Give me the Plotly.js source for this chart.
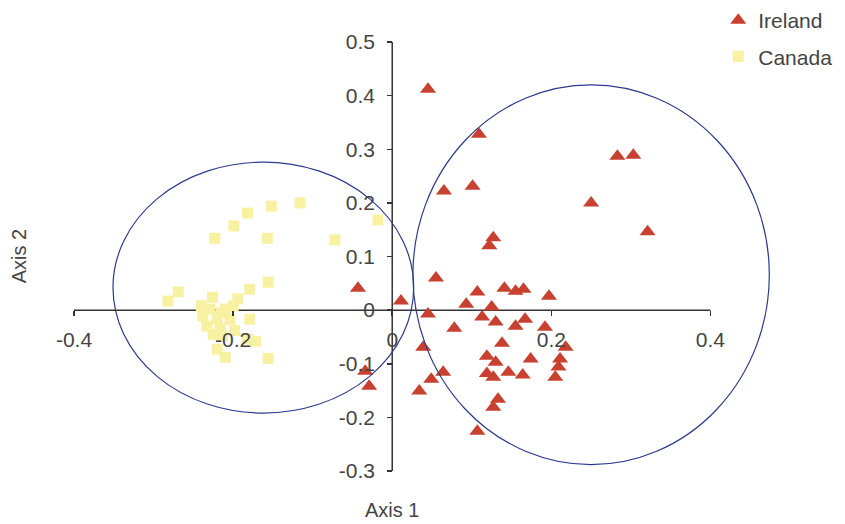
<!DOCTYPE html>
<html>
<head>
<meta charset="utf-8">
<script src="https://cdn.plot.ly/plotly-3.0.1.min.js"></script>
<style>html,body{margin:0;padding:0;background:#fff;}#chart{width:845px;height:524px;}</style>
</head>
<body>
<div id="chart"></div>
<script>
// Ireland (triangles)
var irelandX = [0.045, 0.109, 0.065, 0.101, 0.122, 0.127, 0.283, 0.303, 0.250, 0.321,
  -0.043, 0.011, 0.055, 0.045, 0.078, 0.093, 0.107, 0.141, 0.155, 0.165,
  0.197, 0.125, 0.113, 0.130, 0.155, 0.167, 0.192, 0.138, 0.039, 0.119,
  0.130, 0.119, 0.127, 0.146, 0.164, 0.174, 0.218, 0.211, 0.209, 0.205,
  0.064, 0.049, 0.034, 0.133, 0.127, 0.107, -0.034, -0.029];
var irelandY = [0.412, 0.328, 0.222, 0.231, 0.120, 0.135, 0.287, 0.289, 0.200, 0.146,
  0.041, 0.017, 0.060, -0.007, -0.034, 0.011, 0.034, 0.041, 0.035, 0.039,
  0.026, 0.006, -0.013, -0.022, -0.030, -0.017, -0.032, -0.062, -0.069, -0.086,
  -0.097, -0.118, -0.125, -0.116, -0.121, -0.091, -0.069, -0.091, -0.106, -0.125,
  -0.116, -0.129, -0.151, -0.166, -0.181, -0.226, -0.114, -0.142];
// Canada (squares)
var canadaX = [-0.223, -0.199, -0.182, -0.152, -0.157, -0.116, -0.072, -0.018, -0.156, -0.269,
  -0.282, -0.226, -0.179, -0.194, -0.220, -0.238, -0.233, -0.204, -0.179, -0.213,
  -0.182, -0.210, -0.156, -0.220, -0.210, -0.229, -0.216, -0.172, -0.215, -0.200,
  -0.225, -0.198, -0.240];
var canadaY = [0.134, 0.157, 0.181, 0.194, 0.134, 0.200, 0.131, 0.168, 0.052, 0.034,
  0.017, 0.024, 0.039, 0.021, -0.017, -0.011, -0.030, -0.017, -0.017, -0.049,
  -0.054, -0.088, -0.090, -0.073, 0.002, 0.002, -0.035, -0.058, -0.005, 0.008,
  -0.045, -0.038, 0.008];
// Ellipses (Canada, Ireland): centres and semi-axes
var ellipseCx = [-0.162, 0.250];
var ellipseCy = [0.042, 0.066];
var ellipseRx = [0.189, 0.224];
var ellipseRy = [0.234, 0.354];
// Tick values
var xTicks = [-0.4, -0.2, 0, 0.2, 0.4];
var xTickText = ['-0.4', '-0.2', '0', '0.2', '0.4'];
var yTicks = [-0.3, -0.2, -0.1, 0, 0.1, 0.2, 0.3, 0.4, 0.5];
var yTickText = ['-0.3', '-0.2', '-0.1', '0', '0.1', '0.2', '0.3', '0.4', '0.5'];

var FONT = 'Liberation Sans, Arial, sans-serif';
var xRange = [-0.4, 0.5];
var yRange = [-0.3, 0.5];

var traces = [
  {x: irelandX, y: irelandY, type: 'scatter', mode: 'markers', name: 'Ireland',
   legendgroup: 'a',
   marker: {symbol: 'triangle-up', size: 14, color: '#c8402f'}},
  {x: canadaX, y: canadaY, type: 'scatter', mode: 'markers', name: 'Canada',
   legendgroup: 'b',
   marker: {symbol: 'square', size: 11, color: '#f8f1a2'}}
];

var shapes = [];
for (var i = 0; i < ellipseCx.length; i++) {
  shapes.push({type: 'circle', xref: 'x', yref: 'y',
    x0: ellipseCx[i] - ellipseRx[i], x1: ellipseCx[i] + ellipseRx[i],
    y0: ellipseCy[i] - ellipseRy[i], y1: ellipseCy[i] + ellipseRy[i],
    line: {color: '#2c3a8e', width: 1.2}, layer: 'above'});
}
shapes.push({type: 'line', xref: 'x', yref: 'y', x0: xTicks[0], x1: xTicks[xTicks.length - 1], y0: 0, y1: 0,
  line: {color: '#333', width: 1.5}, layer: 'below'});
shapes.push({type: 'line', xref: 'x', yref: 'y', x0: 0, x1: 0, y0: yTicks[0], y1: yTicks[yTicks.length - 1],
  line: {color: '#333', width: 1.5}, layer: 'below'});

var layout = {
  width: 845, height: 524,
  margin: {l: 74, r: 55, t: 42, b: 53, autoexpand: false},
  paper_bgcolor: '#fff', plot_bgcolor: '#fff',
  font: {family: FONT, size: 21, color: '#444'},
  showlegend: true,
  legend: {xref: 'container', yref: 'container', x: 0.85, y: 1.0, xanchor: 'left', yanchor: 'top',
    traceorder: 'grouped', tracegroupgap: 6, font: {family: FONT, size: 21, color: '#444'},
    bgcolor: 'rgba(0,0,0,0)', itemwidth: 30},
  xaxis: {range: xRange, anchor: 'free', position: (0 - yRange[0]) / (yRange[1] - yRange[0]),
    showgrid: false, zeroline: false, showline: false, automargin: false,
    tickmode: 'array', tickvals: xTicks, ticktext: xTickText,
    ticks: 'outside', ticklen: 5, tickcolor: '#333', tickwidth: 1.5,
    ticklabelstandoff: 6, tickfont: {family: FONT, size: 21, color: '#444'}},
  yaxis: {range: yRange, anchor: 'free', position: (0 - xRange[0]) / (xRange[1] - xRange[0]),
    showgrid: false, zeroline: false, showline: false, automargin: false,
    tickmode: 'array', tickvals: yTicks, ticktext: yTickText,
    ticks: 'outside', ticklen: 5, tickcolor: '#333', tickwidth: 1.5,
    ticklabelstandoff: 8, tickfont: {family: FONT, size: 21, color: '#444'}},
  shapes: shapes,
  annotations: [
    {text: 'Axis 1', xref: 'paper', yref: 'paper', x: (0 - xRange[0]) / (xRange[1] - xRange[0]), y: -0.091,
     xanchor: 'center', yanchor: 'middle', showarrow: false, font: {family: FONT, size: 20, color: '#444'}},
    {text: 'Axis 2', xref: 'paper', yref: 'paper', x: -0.077, y: 0.5,
     xanchor: 'center', yanchor: 'middle', textangle: -90, showarrow: false, font: {family: FONT, size: 20, color: '#444'}}
  ]
};

Plotly.newPlot('chart', traces, layout, {displayModeBar: false, staticPlot: true});
</script>
</body>
</html>
